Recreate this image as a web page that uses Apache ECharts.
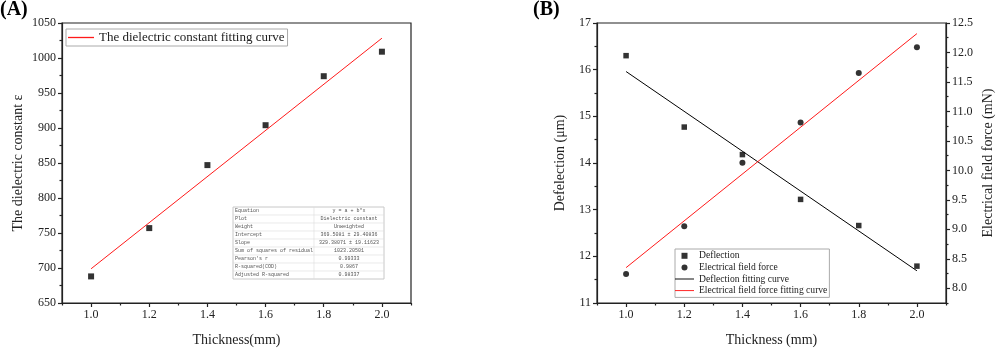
<!DOCTYPE html>
<html>
<head>
<meta charset="utf-8">
<script src="https://cdn.jsdelivr.net/npm/echarts@6/dist/echarts.min.js"></script>
<style>
  html, body { margin: 0; padding: 0; background: #fff; }
  #chart { width: 996px; height: 350px; }
</style>
</head>
<body>
<div id="chart"></div>
<script>
// ---- data ----
const thickness = [1.0, 1.2, 1.4, 1.6, 1.8, 2.0]
const dielectric = [688, 757, 847, 904, 974, 1009]
const dielectricFit = [[1.0, 698.9], [2.0, 1028.3]]

const deflection = [16.30, 14.77, 14.18, 13.22, 12.66, 11.79]
const deflectionFit = [[1.0, 15.96], [2.0, 11.69]]
const force = [8.24, 9.05, 10.13, 10.81, 11.65, 12.09]
const forceFit = [[1.0, 8.35], [2.0, 12.32]]

const xMajor = [1.0, 1.2, 1.4, 1.6, 1.8, 2.0]
const xMinor = [0.9, 1.1, 1.3, 1.5, 1.7, 1.9, 2.1]
const forceMajor = [8.0, 8.5, 9.0, 9.5, 10.0, 10.5, 11.0, 11.5, 12.0, 12.5]
const forceMinor = [7.75, 8.25, 8.75, 9.25, 9.75, 10.25, 10.75, 11.25, 11.75, 12.25]

const tableLabels = ["Equation", "Plot", "Weight", "Intercept", "Slope",
  "Sum of squares of residual", "Pearson's r", "R-squared(COD)", "Adjusted R-squared"]
const tableValues = ["y = a + b*x", "Dielectric constant", "Unweighted",
  "369.5081 \u00b1 29.40836", "329.38071 \u00b1 19.11623", "1023.20501",
  "0.99333", "0.9867", "0.98337"]

const pair = (xs, ys) => xs.map((x, i) => [x, ys[i]])

// ---- styles ----
const FONT = "Liberation Serif"
const AX = "#222"
const lineStyle = { color: AX, width: 1.2 }
const LINE_ICON = "path://M0 0H40V2H0Z"
const SQUARE_ICON = "path://M0 0H10V10H0Z"

const xMain = (grid, name) => ({
  type: "value",
  gridIndex: grid,
  min: 0.9,
  max: 2.1,
  name: name,
  nameLocation: "middle",
  nameGap: 30,
  nameTextStyle: { fontFamily: FONT, fontSize: 14, color: AX },
  axisLine: { show: true, lineStyle },
  axisTick: { show: true, length: 4, lineStyle, customValues: xMajor },
  axisLabel: {
    fontFamily: FONT, fontSize: 12, color: AX, margin: 6,
    customValues: xMajor,
    formatter: (v) => v.toFixed(1),
  },
  splitLine: { show: false },
})
const xMinorAxis = (grid) => ({
  type: "value",
  gridIndex: grid,
  min: 0.9,
  max: 2.1,
  position: "bottom",
  axisLine: { show: false },
  axisTick: { show: true, length: 2.5, lineStyle, customValues: xMinor },
  axisLabel: { show: false },
  splitLine: { show: false },
})

// results table drawn as graphic elements (inside panel A)
const tbl = { x: 233, y: 207, w: 151, rowH: 8, split: 81 }
const tableChildren = []
tableChildren.push({
  type: "rect",
  shape: { x: tbl.x, y: tbl.y, width: tbl.w, height: tbl.rowH * tableLabels.length },
  style: { fill: "#fff", stroke: "#c8c8c8", lineWidth: 1 },
})
tableLabels.forEach((lab, i) => {
  const y = tbl.y + i * tbl.rowH
  if (i > 0) {
    tableChildren.push({
      type: "line",
      shape: { x1: tbl.x, y1: y, x2: tbl.x + tbl.w, y2: y },
      style: { stroke: "#dcdcdc", lineWidth: 0.6 },
    })
  }
  tableChildren.push({
    type: "text",
    style: {
      text: lab, x: tbl.x + 2, y: y + tbl.rowH / 2,
      verticalAlign: "middle", fontFamily: "Liberation Mono",
      fontSize: 5, fill: "#555",
    },
  })
  tableChildren.push({
    type: "text",
    style: {
      text: tableValues[i], x: tbl.x + tbl.split + (tbl.w - tbl.split) / 2,
      y: y + tbl.rowH / 2, align: "center",
      verticalAlign: "middle", fontFamily: "Liberation Mono",
      fontSize: 5, fill: "#555",
    },
  })
})
tableChildren.push({
  type: "line",
  shape: { x1: tbl.x + tbl.split, y1: tbl.y, x2: tbl.x + tbl.split, y2: tbl.y + tbl.rowH * tableLabels.length },
  style: { stroke: "#dcdcdc", lineWidth: 0.6 },
})

const chart = echarts.init(document.getElementById("chart"))
const option = {
  animation: false,
  backgroundColor: "#fff",
  textStyle: { fontFamily: FONT },
  grid: [
    { left: 62, right: 585, top: 23, bottom: 47, show: true, borderColor: AX, borderWidth: 1.2, outerBoundsMode: "none" },
    { left: 597, right: 50, top: 23, bottom: 47, show: true, borderColor: AX, borderWidth: 1.2, outerBoundsMode: "none" },
  ],
  legend: [
    {
      left: 66,
      top: 29,
      orient: "vertical",
      data: [{ name: "The dielectric constant fitting curve", icon: LINE_ICON }],
      itemWidth: 26,
      itemHeight: 8,
      padding: [2, 3, 2, 2],
      borderColor: "#aaa",
      borderWidth: 1,
      textStyle: { fontFamily: FONT, fontSize: 13, color: AX },
    },
    {
      left: 675,
      top: 249,
      orient: "vertical",
      data: [
        { name: "Deflection", icon: SQUARE_ICON },
        { name: "Electrical field force", icon: "circle" },
        { name: "Deflection fitting curve", icon: LINE_ICON },
        { name: "Electrical field force fitting curve", icon: LINE_ICON },
      ],
      itemWidth: 19,
      itemHeight: 6,
      itemGap: 0,
      padding: [1, 2, 1, 0],
      borderColor: "#aaa",
      borderWidth: 1,
      textStyle: { fontFamily: FONT, fontSize: 9.6, color: AX, lineHeight: 11.6 },
    },
  ],
  xAxis: [
    xMain(0, "Thickness(mm)"),
    xMinorAxis(0),
    xMain(1, "Thickness (mm)"),
    xMinorAxis(1),
  ],
  yAxis: [
    {
      type: "value",
      gridIndex: 0,
      min: 650,
      max: 1050,
      interval: 50,
      name: "The dielectric constant \u03b5",
      nameLocation: "middle",
      nameGap: 37,
      nameTextStyle: { fontFamily: FONT, fontSize: 14, color: AX },
      axisLine: { show: true, lineStyle },
      axisTick: { show: true, length: 4, lineStyle },
      minorTick: { show: true, splitNumber: 2, length: 2.5, lineStyle },
      axisLabel: { fontFamily: FONT, fontSize: 12, color: AX, margin: 6, formatter: (v) => String(v) },
      splitLine: { show: false },
    },
    {
      type: "value",
      gridIndex: 1,
      min: 11,
      max: 17,
      interval: 1,
      name: "Defelection (\u03bcm)",
      nameLocation: "middle",
      nameGap: 30,
      nameTextStyle: { fontFamily: FONT, fontSize: 14, color: AX },
      axisLine: { show: true, lineStyle },
      axisTick: { show: true, length: 4, lineStyle },
      minorTick: { show: true, splitNumber: 2, length: 2.5, lineStyle },
      axisLabel: { fontFamily: FONT, fontSize: 12, color: AX, margin: 6 },
      splitLine: { show: false },
    },
    {
      type: "value",
      gridIndex: 1,
      position: "right",
      min: 7.75,
      max: 12.5,
      name: "Electrical field force (mN)",
      nameLocation: "middle",
      nameGap: 35,
      nameRotate: 90,
      nameTextStyle: { fontFamily: FONT, fontSize: 14, color: AX },
      axisLine: { show: true, lineStyle },
      axisTick: { show: true, length: 4, lineStyle, customValues: forceMajor },
      axisLabel: {
        fontFamily: FONT, fontSize: 12, color: AX, margin: 6,
        customValues: forceMajor,
        formatter: (v) => v.toFixed(1),
      },
      splitLine: { show: false },
    },
    {
      type: "value",
      gridIndex: 1,
      position: "right",
      min: 7.75,
      max: 12.5,
      axisLine: { show: false },
      axisTick: { show: true, length: 2.5, lineStyle, customValues: forceMinor },
      axisLabel: { show: false },
      splitLine: { show: false },
    },
  ],
  graphic: [
    { type: "text", left: 0, top: 0, style: { text: "(A)", fontFamily: FONT, fontWeight: "bold", fontSize: 20, fill: "#000" } },
    { type: "text", left: 533, top: 0, style: { text: "(B)", fontFamily: FONT, fontWeight: "bold", fontSize: 20, fill: "#000" } },
    { type: "group", children: tableChildren },
  ],
  series: [
    {
      name: "Dielectric constant",
      type: "scatter",
      xAxisIndex: 0,
      yAxisIndex: 0,
      symbol: "rect",
      symbolSize: 6,
      itemStyle: { color: "#000" },
      data: pair(thickness, dielectric),
    },
    {
      name: "The dielectric constant fitting curve",
      type: "line",
      xAxisIndex: 0,
      yAxisIndex: 0,
      symbol: "none",
      lineStyle: { color: "#ff1a1a", width: 1 },
      itemStyle: { color: "#ff1a1a" },
      data: dielectricFit,
    },
    {
      name: "Deflection",
      type: "scatter",
      xAxisIndex: 2,
      yAxisIndex: 1,
      symbol: "rect",
      symbolSize: 5.5,
      itemStyle: { color: "#000" },
      data: pair(thickness, deflection),
    },
    {
      name: "Electrical field force",
      type: "scatter",
      xAxisIndex: 2,
      yAxisIndex: 2,
      symbol: "circle",
      symbolSize: 6,
      itemStyle: { color: "#000" },
      data: pair(thickness, force),
    },
    {
      name: "Deflection fitting curve",
      type: "line",
      xAxisIndex: 2,
      yAxisIndex: 1,
      symbol: "none",
      lineStyle: { color: "#000", width: 1 },
      itemStyle: { color: "#000" },
      data: deflectionFit,
    },
    {
      name: "Electrical field force fitting curve",
      type: "line",
      xAxisIndex: 2,
      yAxisIndex: 2,
      symbol: "none",
      lineStyle: { color: "#ff1a1a", width: 1 },
      itemStyle: { color: "#ff1a1a" },
      data: forceFit,
    },
  ],
}
chart.setOption(option)
</script>
</body>
</html>
